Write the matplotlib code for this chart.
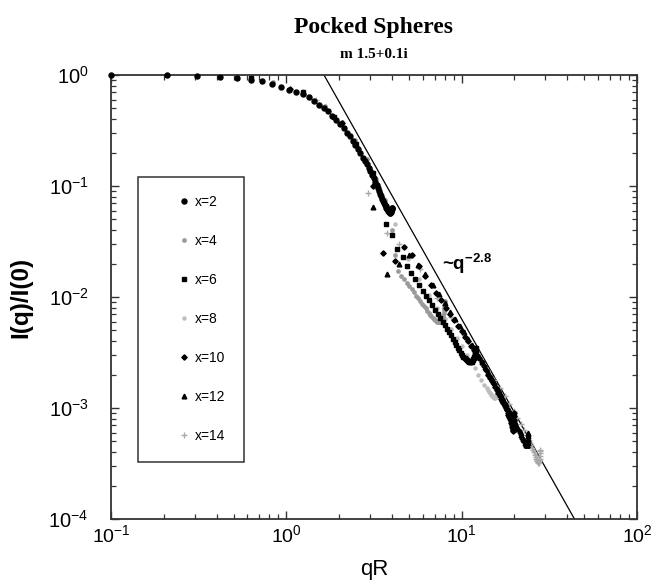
import matplotlib
matplotlib.use('Agg')
import matplotlib.pyplot as plt
import numpy as np

plt.rcParams['font.family'] = ['Liberation Sans', 'DejaVu Sans']
plt.rcParams['mathtext.fontset'] = 'custom'
plt.rcParams['mathtext.rm'] = 'Liberation Sans'
plt.rcParams['mathtext.bf'] = 'Liberation Sans:bold'

# size parameter x -> (qR, I(q)/I(0))
qr_x2 = [0.10, 0.21, 0.31, 0.42, 0.52, 0.63, 0.73, 0.83, 0.93, 1.04,
         1.14, 1.24, 1.34, 1.44, 1.54, 1.64, 1.73, 1.83, 1.93, 2.02,
         2.12, 2.21, 2.30, 2.39, 2.47, 2.56, 2.64, 2.72, 2.80, 2.87,
         2.95, 3.02, 3.09, 3.15, 3.21, 3.27, 3.33, 3.38, 3.44, 3.48,
         3.53, 3.57, 3.61, 3.65, 3.69, 3.72, 3.76, 3.78, 3.81, 3.84,
         3.86, 3.88, 3.90, 3.92, 3.94, 3.95, 3.96, 3.97, 3.98, 3.99, 4.00]
int_x2 = [1.0, 0.99, 0.98, 0.96, 0.94, 0.91, 0.88, 0.83, 0.78, 0.74,
          0.71, 0.67, 0.63, 0.58, 0.54, 0.50, 0.47, 0.43, 0.39, 0.36,
          0.33, 0.30, 0.28, 0.255, 0.235, 0.215, 0.197, 0.18, 0.168, 0.157,
          0.146, 0.136, 0.126, 0.117, 0.109, 0.102, 0.095, 0.090, 0.085, 0.081,
          0.077, 0.074, 0.071, 0.068, 0.066, 0.064, 0.062, 0.061, 0.060, 0.059,
          0.058, 0.058, 0.057, 0.057, 0.058, 0.059, 0.060, 0.061, 0.062, 0.063, 0.064]

qr_x4 = [0.42, 0.84, 1.25, 1.66, 2.07, 2.47, 2.87, 3.25, 3.63, 4.00,
         4.18, 4.35, 4.53, 4.70, 4.87, 5.03, 5.19, 5.35, 5.51, 5.66,
         5.81, 5.95, 6.09, 6.22, 6.35, 6.47, 6.59, 6.71, 6.82, 6.93,
         7.03, 7.13, 7.22, 7.31, 7.39, 7.47, 7.54, 7.61, 7.67, 7.73,
         7.78, 7.82, 7.86, 7.90, 7.93, 7.96, 7.98, 7.99, 8.00]
int_x4 = [0.97, 0.86, 0.70, 0.53, 0.38, 0.26, 0.175, 0.115, 0.075, 0.040,
          0.024, 0.017, 0.0155, 0.0145, 0.0135, 0.0125, 0.0117, 0.0110, 0.0103, 0.0097,
          0.0092, 0.0087, 0.0083, 0.0079, 0.0075, 0.0072, 0.0069, 0.0067, 0.0065, 0.0063,
          0.0062, 0.0061, 0.0060, 0.0060, 0.0059, 0.0059, 0.0060, 0.0060, 0.0061, 0.0062,
          0.0064, 0.0066, 0.0069, 0.0072, 0.0076, 0.0080, 0.0084, 0.0088, 0.0092]

qr_x6 = [0.63, 1.25, 1.88, 2.49, 3.11, 3.71, 4.00, 4.30, 4.60, 4.88,
         5.17, 5.45, 5.73, 6.00, 6.27, 6.53, 6.79, 7.05, 7.30, 7.55,
         7.79, 8.03, 8.26, 8.49, 8.71, 8.92, 9.13, 9.33, 9.52, 9.71,
         9.89, 10.07, 10.23, 10.39, 10.55, 10.69, 10.83, 10.96, 11.09, 11.21,
         11.31, 11.41, 11.51, 11.59, 11.67, 11.74, 11.80, 11.85, 11.89, 11.93,
         11.96, 11.98, 11.99, 12.00]
int_x6 = [0.93, 0.70, 0.42, 0.24, 0.13, 0.045, 0.036, 0.027, 0.023, 0.019,
          0.0165, 0.0145, 0.0128, 0.0114, 0.0103, 0.0093, 0.0085, 0.0077, 0.0071, 0.0065,
          0.0060, 0.0056, 0.0052, 0.0048, 0.0045, 0.0042, 0.0039, 0.0037, 0.0035, 0.0033,
          0.0031, 0.0030, 0.0029, 0.0028, 0.00275, 0.0027, 0.00265, 0.0026, 0.0026, 0.0026,
          0.0026, 0.0026, 0.00265, 0.0027, 0.00275, 0.0028, 0.0029, 0.0030, 0.0031, 0.0032,
          0.0033, 0.0034, 0.00345, 0.0035]

qr_x8 = [0.84, 1.67, 2.50, 3.32, 4.14, 4.94, 5.74, 6.51, 7.27, 8.00,
         8.71, 9.40, 10.06, 10.70, 11.31, 11.89, 12.43, 12.94, 13.42, 13.86,
         14.06, 14.26, 14.45, 14.62, 14.79, 14.94, 15.09, 15.22, 15.34, 15.45,
         15.56, 15.65, 15.73, 15.80, 15.86, 15.91, 15.95, 15.98, 15.99, 16.00]
int_x8 = [0.85, 0.52, 0.235, 0.10, 0.045, 0.022, 0.0145, 0.0105, 0.0080, 0.0064,
          0.0052, 0.0043, 0.0036, 0.0030, 0.0026, 0.0023, 0.0020, 0.0018, 0.0016, 0.0015,
          0.00145, 0.0014, 0.00136, 0.00133, 0.0013, 0.00128, 0.00126, 0.00125, 0.00124, 0.00124,
          0.00125, 0.00126, 0.00128, 0.00131, 0.00134, 0.00138, 0.00142, 0.00146, 0.00148, 0.0015]

qr_x10 = [1.05, 2.09, 3.13, 3.56, 4.16, 4.67, 5.18, 5.68, 6.18, 6.68,
          7.17, 7.66, 8.14, 8.61, 9.08, 9.54, 10.00, 10.45, 10.89, 11.33,
          11.76, 12.18, 12.59, 12.99, 13.38, 13.76, 14.14, 14.51, 14.86, 15.21,
          15.54, 15.87, 16.18, 16.48, 16.77, 17.05, 17.32, 17.58, 17.82, 18.05,
          18.27, 18.48, 18.67, 18.85, 19.02, 19.18, 19.32, 19.45, 19.56, 19.66,
          19.75, 19.82, 19.89, 19.94, 19.97, 19.99, 20.00]
int_x10 = [0.75, 0.37, 0.10, 0.025, 0.021, 0.028, 0.024, 0.019, 0.0155, 0.0128,
           0.0108, 0.0093, 0.0080, 0.0070, 0.0062, 0.0055, 0.0049, 0.0044, 0.0040, 0.0036,
           0.0033, 0.0030, 0.0028, 0.0026, 0.0024, 0.0022, 0.0020, 0.00187, 0.00175, 0.00164,
           0.00153, 0.00144, 0.00136, 0.00128, 0.00121, 0.00115, 0.00110, 0.00105, 0.00100, 0.00095,
           0.00091, 0.00087, 0.00083, 0.00079, 0.00076, 0.00073, 0.00070, 0.00067, 0.00065, 0.00063,
           0.00062, 0.00063, 0.00066, 0.00071, 0.00078, 0.00085, 0.00090]

qr_x12 = [1.25, 2.51, 3.13, 3.75, 4.38, 4.99, 5.61, 6.21, 6.82, 7.42,
          8.01, 8.60, 9.18, 9.76, 10.33, 10.90, 11.45, 12.00, 12.54, 13.07,
          13.60, 14.11, 14.61, 15.11, 15.59, 16.06, 16.52, 16.97, 17.41, 17.83,
          18.25, 18.65, 19.04, 19.42, 19.78, 20.12, 20.46, 20.78, 21.09, 21.38,
          21.66, 21.93, 22.18, 22.41, 22.63, 22.83, 23.01, 23.18, 23.33, 23.47,
          23.59, 23.70, 23.79, 23.87, 23.93, 23.97, 23.99, 24.00]
int_x12 = [0.70, 0.24, 0.065, 0.016, 0.020, 0.024, 0.0195, 0.016, 0.0128, 0.0106,
           0.0088, 0.0074, 0.0064, 0.0055, 0.0048, 0.0042, 0.0037, 0.0033, 0.0029, 0.0026,
           0.00235, 0.0021, 0.0019, 0.00175, 0.0016, 0.00147, 0.00136, 0.00125, 0.00116, 0.00108,
           0.00101, 0.00095, 0.00089, 0.00084, 0.00079, 0.00075, 0.00071, 0.00068, 0.00065, 0.00062,
           0.00059, 0.00057, 0.00055, 0.00053, 0.00051, 0.00050, 0.00048, 0.00047, 0.00046, 0.00046,
           0.00046, 0.00046, 0.00048, 0.00050, 0.00053, 0.00056, 0.00058, 0.00060]

qr_x14 = [1.47, 2.93, 3.75, 4.38, 5.82, 7.25, 8.65, 10.03, 11.39, 12.71,
          14.00, 15.25, 16.46, 17.63, 18.74, 19.80, 20.81, 21.76, 22.65, 23.48,
          24.25, 24.61, 24.95, 25.27, 25.58, 25.87, 26.14, 26.39, 26.63, 26.85,
          27.05, 27.23, 27.39, 27.53, 27.65, 27.76, 27.85, 27.92, 27.96, 27.99, 28.00]
int_x14 = [0.60, 0.087, 0.038, 0.030, 0.018, 0.0098, 0.0066, 0.0048, 0.0036, 0.0028,
           0.0022, 0.0018, 0.0015, 0.00127, 0.00108, 0.00094, 0.00082, 0.00072, 0.00064, 0.00057,
           0.00051, 0.00048, 0.00046, 0.00044, 0.00042, 0.00040, 0.00038, 0.00036, 0.00035, 0.00034,
           0.00033, 0.000325, 0.00032, 0.00032, 0.00033, 0.00034, 0.00035, 0.00037, 0.00039, 0.00041, 0.00042]

series = [
    ('x=2', qr_x2, int_x2, dict(marker='o', ms=3.6, color='black'), 6),
    ('x=4', qr_x4, int_x4, dict(marker='o', ms=2.4, color='#9a9a9a'), 3),
    ('x=6', qr_x6, int_x6, dict(marker='s', ms=3.0, color='black'), 5),
    ('x=8', qr_x8, int_x8, dict(marker='o', ms=2.2, color='#bdbdbd'), 2),
    ('x=10', qr_x10, int_x10, dict(marker='D', ms=2.7, color='black'), 5),
    ('x=12', qr_x12, int_x12, dict(marker='^', ms=3.4, color='black'), 5),
    ('x=14', qr_x14, int_x14, dict(marker='+', ms=4.0, mew=1.0, color='#aaaaaa'), 2),
]

# power law guide ~q^-2.8, passes I=1 at qR=1.64
slope = -2.8
q_guide = np.array([1.64, 43.9])
i_guide = (q_guide / 1.64) ** slope

fig = plt.figure(figsize=(6.51, 5.86), dpi=100)
ax = fig.add_axes([111 / 651, 1 - 519 / 586, 526 / 651, 444 / 586])

ax.plot(q_guide, i_guide, color='black', lw=0.9, zorder=1)

for label, q, i, style, z in series:
    ax.plot(q, i, ls='none', label=label, clip_on=False, zorder=z, **style)

ax.set_xscale('log')
ax.set_yscale('log')
ax.set_xlim(0.1, 100)
ax.set_ylim(1e-4, 1)

for s in ax.spines.values():
    s.set_linewidth(1.3)
    s.set_color('#333333')
ax.tick_params(which='both', direction='in', top=True, right=True, color='#333333')
ax.tick_params(which='major', length=6, width=1.0)
ax.tick_params(which='minor', length=3.5, width=0.9)
ax.tick_params(axis='x', which='major', labelsize=14, pad=4)
ax.tick_params(axis='y', which='major', labelsize=14.5, pad=16)

ax.set_xlabel('qR', fontsize=16)
ax.xaxis.set_label_coords(0.5, -0.09)
ax.set_ylabel('I(q)/I(0)', fontsize=17.5, fontweight='bold')
ax.yaxis.set_label_coords(-0.150, 0.5)

ax.text(7.73, 0.0175, '~q$^{\\mathbf{-2.8}}$', fontsize=13.5, fontweight='bold',
        ha='left', va='baseline')

leg = ax.legend(loc='upper left', bbox_to_anchor=(27 / 526, 342 / 444), borderaxespad=0,
                fontsize=10, frameon=True, fancybox=False, framealpha=1,
                borderpad=1.32, labelspacing=1.80, handlelength=3.97,
                handletextpad=-1.19, numpoints=1)
leg.get_frame().set_edgecolor('#333333')
leg.get_frame().set_linewidth(1.1)

fig.text(374 / 651, 1 - 28 / 586, 'Pocked Spheres', family='Liberation Serif',
         fontweight='bold', fontsize=17, ha='center', va='center')
fig.text(374 / 651, 1 - 55 / 586, 'm 1.5+0.1i', family='Liberation Serif',
         fontweight='bold', fontsize=11, ha='center', va='center')

fig.savefig('out.png', dpi=100)
